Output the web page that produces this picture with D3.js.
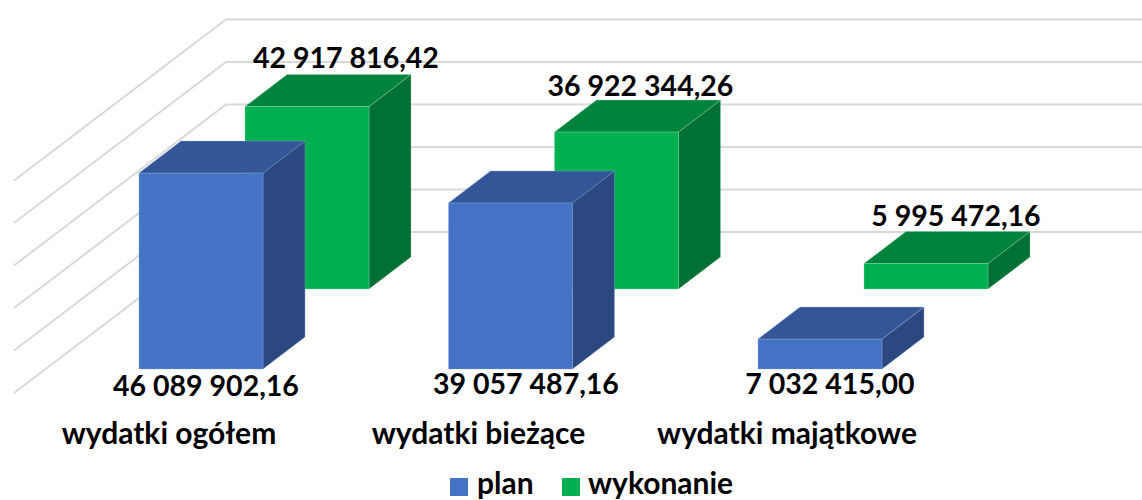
<!DOCTYPE html>
<html lang="pl">
<head>
<meta charset="utf-8">
<script src="https://cdn.jsdelivr.net/npm/d3@7/dist/d3.min.js"></script>
<style>
html,body{margin:0;padding:0;background:#fff;overflow:hidden}
text{font-family:Lato,"Open Sans",sans-serif;font-weight:700;fill:#000}
</style>
</head>
<body>
<svg id="chart" width="1142" height="500"></svg>
<script>
const categories = ["wydatki ogółem", "wydatki bieżące", "wydatki majątkowe"];
const seriesNames = ["plan", "wykonanie"];
const planValues = [46089902.16, 39057487.16, 7032415.00];
const wykonanieValues = [42917816.42, 36922344.26, 5995472.16];
const axisTicks = [0, 10000000, 20000000, 30000000, 40000000, 50000000];

// styles and layout
const palette = {
  plan: {front: "#4472C4", top: "#355696", side: "#2C4880", edge: "#8FAADC"},
  wykonanie: {front: "#00B050", top: "#00843C", side: "#007034", edge: "#8FD8AC"}
};
const numberSize = 28.5, wordSize = 30;
const H = d3.scaleLinear().domain([0, 50000000]).range([0, 212.5]);
const xBand = d3.scaleBand().domain(categories).range([139, 139 + 3 * 309.5]);
const seriesDx = d3.scaleOrdinal().domain(seriesNames).range([0, 106]);
const seriesBase = d3.scaleOrdinal().domain(seriesNames).range([369, 289]);
const barW = 124, depthX = 42, depthY = 32;
const wall = {x: 226, y0: 232, right: 1142, floorDx: -212, floorDy: 161};
const labelNudge = {
  plan: [[5, 27], [15.5, 25], [10, 25]],
  wykonanie: [[39, -39], [24, -36], [30, -38]]
};

const svg = d3.select("#chart");
const fmt = v => {
  const [i, d] = v.toFixed(2).split(".");
  return i.replace(/\B(?=(\d{3})+(?!\d))/g, " ") + "," + d;
};

// gridlines: back wall + left floor wall
const line = d3.line();
svg.append("g").selectAll("path").data(axisTicks).join("path")
  .attr("d", t => {
    const y = wall.y0 - H(t);
    return line([[wall.x + wall.floorDx, y + wall.floorDy], [wall.x, y], [wall.right, y]]);
  })
  .attr("fill", "none").attr("stroke", "#D9D9D9").attr("stroke-width", 2);

// bars: back series first
const rows = [
  {name: "wykonanie", values: wykonanieValues},
  {name: "plan", values: planValues}
];
rows.forEach(s => {
  const c = palette[s.name];
  const g = svg.append("g").selectAll("g").data(s.values).join("g");
  const X = (d, i) => xBand(categories[i]) + seriesDx(s.name);
  const B = seriesBase(s.name);
  g.append("path") // side
    .attr("d", (d, i) => {
      const x = X(d, i) + barW, t = B - H(d);
      return line([[x, t], [x + depthX, t - depthY], [x + depthX, B - depthY], [x, B]]) + "Z";
    }).attr("fill", c.side).attr("stroke", c.edge).attr("stroke-width", 0.6).attr("stroke-opacity", 0.6);
  g.append("path") // top
    .attr("d", (d, i) => {
      const x = X(d, i), t = B - H(d);
      return line([[x, t], [x + depthX, t - depthY], [x + barW + depthX, t - depthY], [x + barW, t]]) + "Z";
    }).attr("fill", c.top).attr("stroke", c.edge).attr("stroke-width", 0.6).attr("stroke-opacity", 0.6);
  g.append("rect") // front
    .attr("x", X).attr("y", d => B - H(d))
    .attr("width", barW).attr("height", d => H(d))
    .attr("fill", c.front).attr("stroke", c.edge).attr("stroke-width", 0.6).attr("stroke-opacity", 0.6);
});

// value labels
rows.forEach(s => {
  const B = seriesBase(s.name);
  svg.append("g").selectAll("text").data(s.values).join("text")
    .attr("x", (d, i) => xBand(categories[i]) + seriesDx(s.name) + barW / 2 + labelNudge[s.name][i][0])
    .attr("y", (d, i) => (s.name === "plan" ? B : B - H(d)) + labelNudge[s.name][i][1])
    .attr("text-anchor", "middle").attr("font-size", numberSize)
    .text(fmt);
});

// category labels
const catCenter = d3.scaleOrdinal().domain(categories).range([169, 478.5, 787]);
svg.append("g").selectAll("text").data(categories).join("text")
  .attr("x", d => catCenter(d)).attr("y", 444)
  .attr("text-anchor", "middle").attr("font-size", wordSize).text(d => d);

// legend
const legendX = d3.scaleOrdinal().domain(seriesNames).range([450, 562]);
const legendTextX = d3.scaleOrdinal().domain(seriesNames).range([477, 588]);
const lg = svg.append("g").selectAll("g").data(seriesNames).join("g");
lg.append("rect").attr("x", d => legendX(d)).attr("y", 478).attr("width", 18).attr("height", 18)
  .attr("fill", d => palette[d].front);
lg.append("text").attr("x", d => legendTextX(d)).attr("y", 493.5)
  .attr("font-size", wordSize).text(d => d);
</script>
</body>
</html>
